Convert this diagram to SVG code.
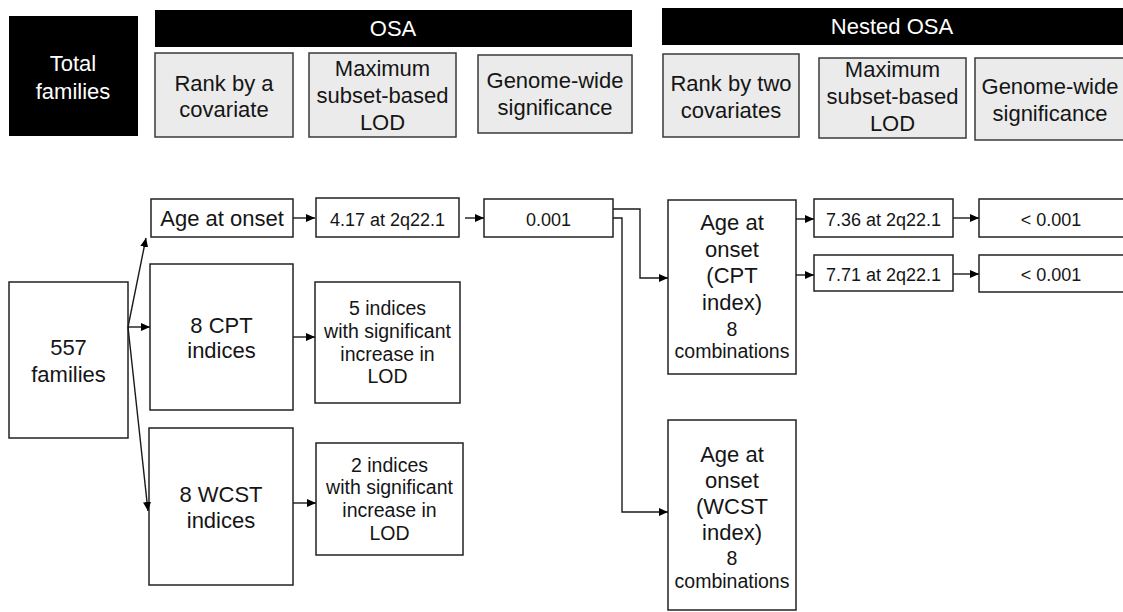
<svg xmlns="http://www.w3.org/2000/svg" width="1123" height="612" viewBox="0 0 1123 612">
<defs>
<style>
text{font-family:"Liberation Sans",Arial,sans-serif;fill:#151515;text-anchor:middle}
.big{font-size:22px}
.mid{font-size:19.5px}
.sm{font-size:18px}
.wt{fill:#ffffff}
.hdr{fill:#000000}
.sub{fill:#ebebeb;stroke:#3a3a3a;stroke-width:1.5}
.box{fill:#ffffff;stroke:#222222;stroke-width:1.5}
.con{fill:none;stroke:#1a1a1a;stroke-width:1.4;marker-end:url(#arr)}
</style>
<marker id="arr" markerUnits="userSpaceOnUse" markerWidth="9" markerHeight="8" refX="9" refY="4" orient="auto">
<path d="M0,0 L9,4 L0,8 z" fill="#000"/>
</marker>
</defs>
<rect width="1123" height="612" fill="#ffffff"/>

<g id="total-families">
<rect class="hdr" x="9" y="16" width="129" height="120"/>
<text class="big wt" x="73" y="71">Total</text>
<text class="big wt" x="73" y="99">families</text>
</g>
<g id="osa-header">
<rect class="hdr" x="155" y="10" width="477" height="37"/>
<text class="big wt" x="393" y="36">OSA</text>
</g>
<g id="nested-osa-header">
<rect class="hdr" x="662" y="8" width="470" height="37"/>
<text class="big wt" x="892" y="34">Nested OSA</text>
</g>
<g id="rank-covariate">
<rect class="sub" x="155" y="53" width="138" height="84"/>
<text class="big" x="224" y="91">Rank by a</text>
<text class="big" x="224" y="117">covariate</text>
</g>
<g id="max-lod">
<rect class="sub" x="309" y="53" width="147" height="84"/>
<text class="big" x="382.5" y="76">Maximum</text>
<text class="big" x="382.5" y="103">subset-based</text>
<text class="big" x="382.5" y="130">LOD</text>
</g>
<g id="genome-wide">
<rect class="sub" x="478" y="55" width="154" height="78"/>
<text class="big" x="555" y="88">Genome-wide</text>
<text class="big" x="555" y="115">significance</text>
</g>
<g id="rank-two-covariates">
<rect class="sub" x="663" y="54" width="136" height="83"/>
<text class="big" x="731" y="91">Rank by two</text>
<text class="big" x="731" y="118">covariates</text>
</g>
<g id="nested-max-lod">
<rect class="sub" x="819" y="58" width="147" height="80"/>
<text class="big" x="892.5" y="77">Maximum</text>
<text class="big" x="892.5" y="104">subset-based</text>
<text class="big" x="892.5" y="131">LOD</text>
</g>
<g id="nested-genome-wide">
<rect class="sub" x="975" y="58" width="160" height="82"/>
<text class="big" x="1050" y="94">Genome-wide</text>
<text class="big" x="1050" y="121">significance</text>
</g>

<g id="families-557">
<rect class="box" x="9" y="282" width="119" height="156"/>
<text class="big" x="68.5" y="355">557</text>
<text class="big" x="68.5" y="382">families</text>
</g>
<g id="age-at-onset">
<rect class="box" x="151" y="199" width="142" height="38"/>
<text class="big" x="222" y="226">Age at onset</text>
</g>
<g id="cpt-indices">
<rect class="box" x="150" y="264" width="143" height="146"/>
<text class="big" x="221.5" y="333">8 CPT</text>
<text class="big" x="221.5" y="358">indices</text>
</g>
<g id="wcst-indices">
<rect class="box" x="149" y="428" width="144" height="157"/>
<text class="big" x="221" y="502">8 WCST</text>
<text class="big" x="221" y="528">indices</text>
</g>
<g id="lod-417">
<rect class="box" x="316" y="198" width="143" height="39"/>
<text class="sm" x="387.5" y="226">4.17 at 2q22.1</text>
</g>
<g id="p-0001">
<rect class="box" x="484" y="199" width="129" height="38"/>
<text class="sm" x="548.5" y="226">0.001</text>
</g>
<g id="cpt-5-indices">
<rect class="box" x="315" y="282" width="145" height="121"/>
<text class="mid" x="387.5" y="315">5 indices</text>
<text class="mid" x="387.5" y="338">with significant</text>
<text class="mid" x="387.5" y="361">increase in</text>
<text class="mid" x="387.5" y="383">LOD</text>
</g>
<g id="wcst-2-indices">
<rect class="box" x="316" y="443" width="147" height="112"/>
<text class="mid" x="389.5" y="472">2 indices</text>
<text class="mid" x="389.5" y="494">with significant</text>
<text class="mid" x="389.5" y="517">increase in</text>
<text class="mid" x="389.5" y="540">LOD</text>
</g>
<g id="age-cpt">
<rect class="box" x="668" y="200" width="128" height="174"/>
<text class="big" x="732" y="230">Age at</text>
<text class="big" x="732" y="256.5">onset</text>
<text class="big" x="732" y="283">(CPT</text>
<text class="big" x="732" y="309.5">index)</text>
<text class="mid" x="732" y="336">8</text>
<text class="mid" x="732" y="358">combinations</text>
</g>
<g id="age-wcst">
<rect class="box" x="668" y="420" width="128" height="190"/>
<text class="big" x="732" y="462">Age at</text>
<text class="big" x="732" y="488">onset</text>
<text class="big" x="732" y="514">(WCST</text>
<text class="big" x="732" y="540">index)</text>
<text class="mid" x="732" y="565">8</text>
<text class="mid" x="732" y="588">combinations</text>
</g>
<g id="lod-736">
<rect class="box" x="814" y="199" width="139" height="38"/>
<text class="sm" x="883.5" y="226">7.36 at 2q22.1</text>
</g>
<g id="p-736">
<rect class="box" x="979" y="199" width="150" height="38"/>
<text class="sm" x="1051" y="226">&lt; 0.001</text>
</g>
<g id="lod-771">
<rect class="box" x="814" y="255" width="139" height="36"/>
<text class="sm" x="883.5" y="281">7.71 at 2q22.1</text>
</g>
<g id="p-771">
<rect class="box" x="979" y="255" width="150" height="37"/>
<text class="sm" x="1051" y="281">&lt; 0.001</text>
</g>

<g id="connectors">
<path class="con" d="M128,327 L146,238"/>
<path class="con" d="M128,327 L150,327"/>
<path class="con" d="M128,327 L148,511"/>
<path class="con" d="M293,218 L315,218"/>
<path class="con" d="M465,218 L484,218"/>
<path class="con" d="M293,337 L315,337"/>
<path class="con" d="M293,503 L316,503"/>
<path class="con" d="M613,209 H640 V278 H668"/>
<path class="con" d="M613,218 H622 V512 H668"/>
<path class="con" d="M796,219 H814"/>
<path class="con" d="M796,275 H814"/>
<path class="con" d="M953,218 H979"/>
<path class="con" d="M953,274 H979"/>
</g>
</svg>
